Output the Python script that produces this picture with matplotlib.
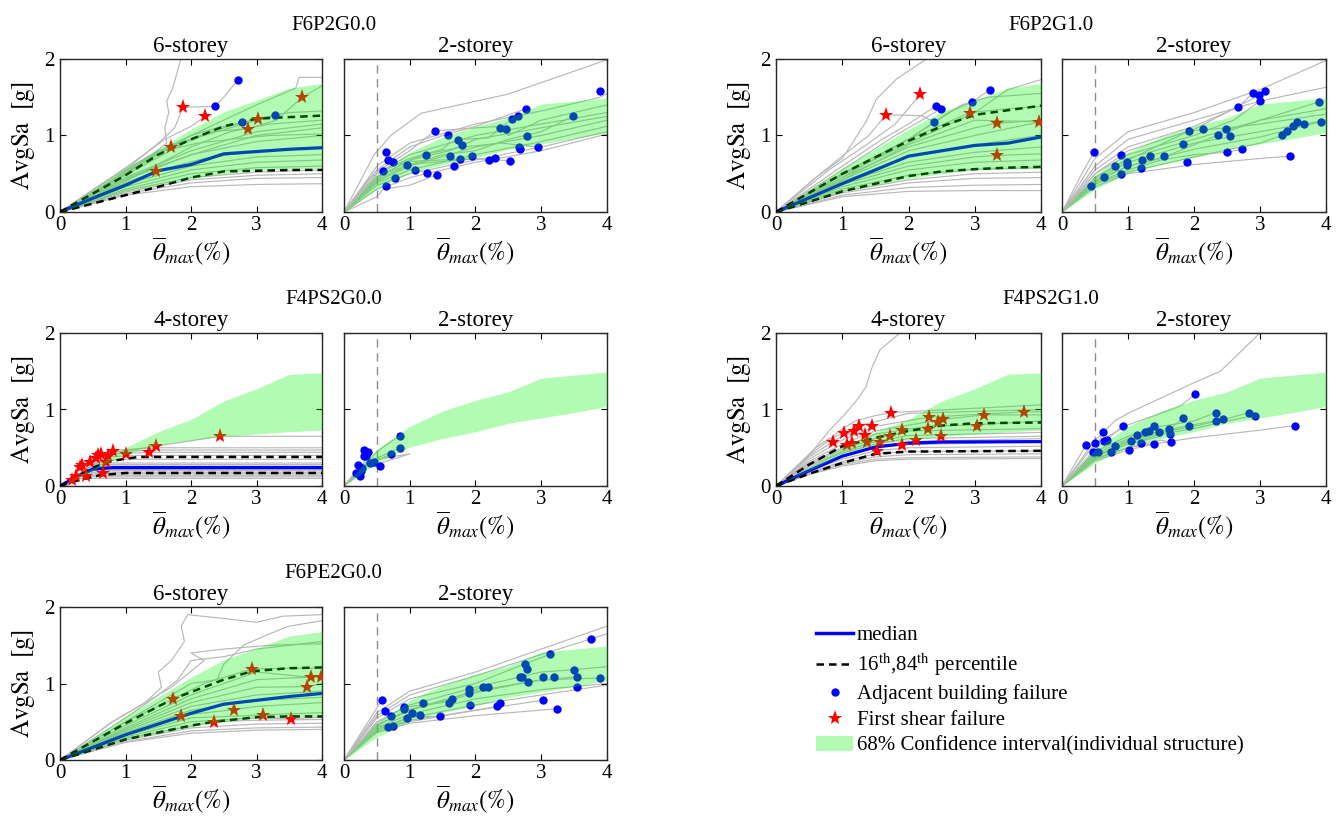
import matplotlib
matplotlib.use('Agg')
import matplotlib.pyplot as plt
from matplotlib.lines import Line2D
from matplotlib.patches import Patch

plt.rcParams['font.family'] = ['Liberation Serif', 'DejaVu Serif']
plt.rcParams['mathtext.fontset'] = 'stix'

# ---------------- data ----------------
group_titles = ['F6P2G0.0', 'F6P2G1.0', 'F4PS2G0.0', 'F4PS2G1.0', 'F6PE2G0.0']

# 68% band of the individual structures
band6_x = [0, 1, 2, 2.5, 3, 3.5, 4]
band6_lo = [0, 0.27, 0.44, 0.50, 0.55, 0.56, 0.57]
band6_hi = [0, 0.57, 1.08, 1.31, 1.46, 1.62, 1.68]
band4_x = [0, 0.5, 1, 1.5, 2, 2.5, 3, 3.5, 4]
band4_lo = [0, 0.20, 0.42, 0.54, 0.60, 0.65, 0.68, 0.71, 0.73]
band4_hi = [0, 0.24, 0.50, 0.71, 0.87, 1.11, 1.27, 1.46, 1.48]
band2_x = [0, 0.5, 1, 1.5, 2, 2.5, 3, 3.5, 4]
band2_lo = [0, 0.30, 0.51, 0.62, 0.71, 0.82, 0.89, 0.96, 1.04]
band2_hi = [0, 0.48, 0.78, 0.98, 1.12, 1.23, 1.41, 1.45, 1.49]

# F6P2G0.0 - 6-storey
a_curves = [
    [(0, 0), (0.5, 0.25), (1, 0.5), (1.4, 0.75), (1.63, 0.9), (1.6, 1.1), (1.66, 1.3), (1.63, 1.45), (1.72, 1.62), (1.78, 1.8), (1.86, 2.05)],
    [(0, 0), (0.6, 0.35), (1.1, 0.62), (1.5, 0.9), (1.75, 1.1), (1.88, 1.37), (2.36, 1.38), (2.5, 1.5), (2.72, 1.73)],
    [(0, 0), (0.7, 0.4), (1.2, 0.7), (1.6, 0.95), (2.0, 1.12), (2.22, 1.25)],
    [(0, 0), (0.8, 0.45), (1.4, 0.75), (2.0, 1.0), (2.4, 1.1), (2.8, 1.17)],
    [(0, 0), (0.8, 0.42), (1.5, 0.78), (2.2, 1.0), (2.8, 1.15), (3.28, 1.26)],
    [(0, 0), (1, 0.5), (1.7, 0.86), (2.3, 1.05), (2.87, 1.09), (3.3, 1.2), (3.7, 1.5), (3.9, 1.6), (4, 1.65)],
    [(0, 0), (1, 0.48), (2, 0.95), (2.5, 1.1), (3.0, 1.22), (3.5, 1.3), (4, 1.32)],
    [(0, 0), (0.9, 0.4), (1.5, 0.6), (2.2, 0.8), (3, 1.0), (4, 1.1)],
    [(0, 0), (1, 0.42), (2, 0.75), (3, 0.92), (4, 1.0)],
    [(0, 0), (1, 0.38), (1.5, 0.54), (2.2, 0.7), (3, 0.8), (4, 0.85)],
    [(0, 0), (1, 0.36), (2, 0.6), (3, 0.72), (4, 0.75)],
    [(0, 0), (1, 0.33), (2, 0.55), (3, 0.65), (4, 0.68)],
    [(0, 0), (1, 0.3), (2, 0.5), (3, 0.58), (4, 0.6)],
    [(0, 0), (1, 0.28), (2, 0.45), (3, 0.52), (4, 0.55)],
    [(0, 0), (1, 0.26), (2, 0.42), (3, 0.48), (4, 0.5)],
    [(0, 0), (1, 0.24), (2, 0.38), (3, 0.44), (4, 0.45)],
    [(0, 0), (1, 0.22), (2, 0.33), (3, 0.36), (4, 0.37)],
    [(0, 0), (1, 0.4), (2, 0.85), (2.6, 1.05), (3.2, 1.15), (4, 1.2)],
    [(0, 0), (1, 0.45), (2, 0.8), (3, 1.05), (4, 1.15)],
    [(0, 0), (0.6, 0.3), (1.2, 0.65), (1.6, 0.8), (2.1, 0.9), (2.6, 0.95), (3.2, 1.0), (4, 1.02)],
    [(0, 0), (1, 0.5), (2, 1.0), (3, 1.4), (3.6, 1.62), (3.65, 1.76), (4, 1.76)],
]
a_med_x = [0, 0.5, 1, 1.5, 2, 2.5, 3, 3.5, 4]
a_med_y = [0, 0.18, 0.35, 0.54, 0.62, 0.76, 0.79, 0.82, 0.84]
a_p84_y = [0, 0.24, 0.48, 0.75, 0.95, 1.12, 1.22, 1.24, 1.26]
a_p16_y = [0, 0.11, 0.22, 0.33, 0.45, 0.53, 0.54, 0.55, 0.55]
a_star_x = [1.88, 2.21, 1.69, 1.47, 3.02, 2.87, 3.69]
a_star_y = [1.37, 1.25, 0.85, 0.54, 1.22, 1.09, 1.50]
a_dot_x = [2.72, 2.36, 2.78, 3.28]
a_dot_y = [1.73, 1.38, 1.17, 1.27]

# F6P2G0.0 - 2-storey
b_curves = [
    [(0, 0), (0.46, 0.75), (0.71, 1.0), (1.17, 1.29), (2.49, 1.54), (4.0, 1.99)],
    [(0, 0), (0.5, 0.6), (1, 0.9), (2, 1.15), (3, 1.32), (3.9, 1.5), (4, 1.55)],
    [(0, 0), (0.5, 0.55), (1, 0.85), (1.5, 1.0), (2, 1.12), (2.77, 1.35)],
    [(0, 0), (0.45, 0.5), (1, 0.8), (1.38, 1.06), (2, 1.1), (2.4, 1.12), (2.5, 1.0), (3, 1.2), (4, 1.4)],
    [(0, 0), (0.5, 0.5), (1, 0.75), (2, 1.0), (3, 1.15), (4, 1.3)],
    [(0, 0), (0.5, 0.45), (1, 0.68), (1.6, 0.8), (2, 0.95), (3, 1.1), (4, 1.25)],
    [(0, 0), (0.5, 0.4), (1, 0.6), (2, 0.85), (3, 1.0), (4, 1.2)],
    [(0, 0), (0.5, 0.38), (1, 0.55), (2, 0.75), (3, 0.92), (4, 1.12)],
    [(0, 0), (0.5, 0.35), (1, 0.5), (2, 0.68), (3, 0.85), (4, 1.05)],
    [(0, 0), (0.5, 0.3), (0.8, 0.38), (1, 0.45), (2, 0.65), (3, 0.8), (4, 1.02)],
    [(0, 0), (0.5, 0.2), (0.6, 0.3), (1.0, 0.35), (1.3, 0.45), (1.42, 0.49)],
    [(0, 0), (0.5, 0.42), (1, 0.62), (1.5, 0.75), (2, 0.8), (2.5, 0.95), (3, 1.05), (3.48, 1.25)],
    [(0, 0), (0.5, 0.5), (1, 0.7), (1.5, 0.82), (1.6, 0.9), (1.8, 0.95), (2.2, 0.97), (2.56, 1.22)],
    [(0, 0), (0.4, 0.45), (0.7, 0.6), (1, 0.66), (2, 0.7), (2.21, 0.68)],
    [(0, 0), (0.5, 0.47), (1, 0.62), (1.5, 0.66), (2, 0.7), (2.52, 0.67)],
    [(0, 0), (0.6, 0.5), (1.2, 0.75), (1.8, 0.85), (2.4, 0.9), (2.95, 0.85)],
]
b_dot_x = [0.64, 0.67, 0.75, 0.60, 0.78, 0.64, 0.96, 1.08, 1.24, 1.26, 1.38, 1.42, 1.58, 1.61, 1.68, 1.73,
           1.79, 1.76, 1.94, 2.21, 2.30, 2.38, 2.47, 2.52, 2.56, 2.65, 2.66, 2.67, 2.77, 2.78, 2.95, 3.48, 3.89]
b_dot_y = [0.79, 0.68, 0.65, 0.54, 0.45, 0.34, 0.62, 0.55, 0.74, 0.51, 1.06, 0.49, 1.00, 0.73, 0.60, 0.94,
           0.87, 0.69, 0.73, 0.68, 0.70, 1.10, 1.08, 0.67, 1.22, 1.26, 0.85, 0.82, 1.35, 0.99, 0.85, 1.25, 1.58]

# F6P2G1.0 - 6-storey
c_curves = [
    [(0, 0), (0.6, 0.45), (1.0, 0.7), (1.36, 1.18), (1.52, 1.48), (1.82, 1.74), (2.27, 2.0)],
    [(0, 0), (0.6, 0.45), (1.1, 0.8), (1.4, 1.0), (1.66, 1.27), (2.2, 1.26), (2.38, 1.18)],
    [(0, 0), (0.8, 0.55), (1.4, 0.9), (1.8, 1.15), (2.18, 1.54)],
    [(0, 0), (1, 0.6), (1.6, 0.95), (2.0, 1.15), (2.42, 1.39)],
    [(0, 0), (1, 0.55), (1.8, 1.0), (2.2, 1.2), (2.49, 1.35)],
    [(0, 0), (1, 0.5), (2, 0.95), (2.6, 1.3), (2.96, 1.44), (3.23, 1.60)],
    [(0, 0), (1, 0.5), (2, 0.95), (2.93, 1.30), (3.5, 1.35), (4, 1.38)],
    [(0, 0), (1, 0.48), (2, 0.9), (3, 1.3), (3.5, 1.6), (4, 1.73)],
    [(0, 0), (1, 0.45), (2, 0.85), (3, 1.1), (3.33, 1.16), (4, 1.2)],
    [(0, 0), (1, 0.42), (2, 0.8), (3, 1.0), (4, 1.18)],
    [(0, 0), (1, 0.4), (2, 0.72), (3, 0.88), (4, 1.0)],
    [(0, 0), (1, 0.38), (2, 0.65), (3, 0.78), (4, 0.85)],
    [(0, 0), (1, 0.36), (2, 0.6), (3, 0.72), (3.33, 0.74), (4, 0.76)],
    [(0, 0), (1, 0.33), (2, 0.55), (3, 0.65), (4, 0.68)],
    [(0, 0), (1, 0.3), (2, 0.48), (3, 0.56), (4, 0.58)],
    [(0, 0), (1, 0.27), (2, 0.42), (3, 0.5), (4, 0.52)],
    [(0, 0), (1, 0.25), (2, 0.38), (3, 0.44), (4, 0.45)],
    [(0, 0), (1, 0.22), (2, 0.32), (3, 0.35), (4, 0.36)],
    [(0, 0), (1, 0.2), (2, 0.27), (3, 0.28), (4, 0.28)],
    [(0, 0), (1, 0.45), (2, 0.95), (2.8, 1.4), (3.2, 1.5), (4, 1.55)],
    [(0, 0), (1, 0.42), (2, 0.88), (3, 1.2), (3.97, 1.18)],
]
c_med_x = [0, 1, 2, 2.5, 3, 3.5, 4]
c_med_y = [0, 0.37, 0.73, 0.80, 0.87, 0.90, 0.98]
c_p84_y = [0, 0.50, 0.93, 1.12, 1.27, 1.33, 1.39]
c_p16_y = [0, 0.27, 0.47, 0.53, 0.56, 0.58, 0.59]
c_star_x = [1.66, 2.18, 2.93, 3.33, 3.97, 3.33]
c_star_y = [1.27, 1.54, 1.30, 1.16, 1.18, 0.74]
c_dot_x = [3.23, 2.42, 2.49, 2.38, 2.96]
c_dot_y = [1.60, 1.39, 1.35, 1.18, 1.44]

# F6P2G1.0 - 2-storey
d_curves = [
    [(0, 0), (0.5, 0.7), (1, 1.05), (2, 1.3), (3, 1.6), (4, 1.98)],
    [(0, 0), (0.5, 0.6), (1, 0.95), (2, 1.2), (3, 1.45), (4, 1.63)],
    [(0, 0), (0.3, 0.5), (0.49, 0.79)],
    [(0, 0), (0.5, 0.55), (1, 0.85), (2, 1.12), (2.67, 1.37), (2.9, 1.56)],
    [(0, 0), (0.5, 0.5), (1, 0.8), (2, 1.08), (3, 1.53), (3.07, 1.58)],
    [(0, 0), (0.5, 0.5), (1, 0.75), (2, 1.0), (2.6, 1.2), (3.0, 1.45)],
    [(0, 0), (0.5, 0.45), (1, 0.7), (2, 0.95), (3, 1.2), (3.9, 1.44)],
    [(0, 0), (0.5, 0.42), (1, 0.65), (2, 0.9), (3, 1.05), (3.66, 1.15), (4, 1.2)],
    [(0, 0), (0.5, 0.4), (1, 0.6), (2, 0.82), (3, 0.98), (3.92, 1.18)],
    [(0, 0), (0.5, 0.38), (1, 0.55), (1.5, 0.68), (2, 0.75), (2.5, 0.78), (2.72, 0.82)],
    [(0, 0), (0.5, 0.33), (1, 0.5), (2, 0.62), (3, 0.7), (3.46, 0.73)],
    [(0, 0), (0.44, 0.34)],
    [(0, 0), (0.5, 0.36), (1, 0.52), (1.5, 0.62), (2, 0.72), (3, 0.9), (3.33, 1.0)],
    [(0, 0), (0.5, 0.4), (1, 0.6), (1.5, 0.7), (2, 0.88), (2.5, 1.05), (3, 1.2), (4, 1.35)],
    [(0, 0), (0.5, 0.45), (1, 0.68), (1.93, 1.06), (2.5, 1.1), (3, 1.15), (4, 1.28)],
]
d_dot_x = [0.49, 0.44, 0.80, 0.89, 0.90, 0.98, 0.98, 1.21, 1.20, 1.34, 1.54, 1.84, 1.90, 1.93, 2.13, 2.37,
           2.48, 2.54, 2.50, 2.72, 2.67, 2.90, 2.99, 3.07, 3.00, 3.33, 3.41, 3.50, 3.56, 3.66, 3.46, 3.90, 3.92, 0.64]
d_dot_y = [0.79, 0.34, 0.60, 0.50, 0.75, 0.65, 0.62, 0.68, 0.57, 0.73, 0.73, 0.89, 0.65, 1.06, 1.08, 1.01,
           1.08, 0.99, 0.78, 0.82, 1.37, 1.56, 1.53, 1.58, 1.45, 1.00, 1.06, 1.13, 1.17, 1.15, 0.73, 1.44, 1.18, 0.46]

# F4PS2G0.0 - 4-storey
e_curves = [
    [(0, 0), (0.2, 0.1), (4, 0.1)],
    [(0, 0), (0.25, 0.12), (4, 0.12)],
    [(0, 0), (0.3, 0.14), (4, 0.14)],
    [(0, 0), (0.3, 0.16), (4, 0.16)],
    [(0, 0), (0.35, 0.18), (4, 0.18)],
    [(0, 0), (0.4, 0.2), (4, 0.2)],
    [(0, 0), (0.45, 0.22), (4, 0.22)],
    [(0, 0), (0.5, 0.24), (4, 0.24)],
    [(0, 0), (0.5, 0.26), (4, 0.26)],
    [(0, 0), (0.55, 0.28), (4, 0.28)],
    [(0, 0), (0.6, 0.3), (4, 0.3)],
    [(0, 0), (0.6, 0.33), (1.0, 0.35), (4, 0.35)],
    [(0, 0), (0.7, 0.38), (1.2, 0.4), (4, 0.4)],
    [(0, 0), (0.8, 0.42), (1.4, 0.44), (4, 0.44)],
    [(0, 0), (0.8, 0.45), (1.5, 0.47), (4, 0.47)],
    [(0, 0), (0.9, 0.47), (1.46, 0.5), (4, 0.5)],
    [(0, 0), (0.9, 0.45), (1.46, 0.52), (2.45, 0.65), (4, 0.65)],
]
e_med_x = [0, 0.25, 0.5, 0.8, 4]
e_med_y = [0, 0.12, 0.22, 0.24, 0.24]
e_p84_x = [0, 0.5, 0.8, 1.2, 4]
e_p84_y = [0, 0.24, 0.33, 0.38, 0.38]
e_p16_x = [0, 0.3, 0.6, 1.0, 4]
e_p16_y = [0, 0.08, 0.14, 0.17, 0.17]
e_star_x = [2.45, 1.46, 1.36, 1.0, 0.70, 0.81, 0.58, 0.34, 0.46, 0.25, 0.40, 0.73, 0.66, 0.19, 0.55, 0.30, 0.62]
e_star_y = [0.66, 0.52, 0.44, 0.42, 0.32, 0.46, 0.40, 0.28, 0.32, 0.13, 0.13, 0.39, 0.17, 0.08, 0.36, 0.25, 0.42]

# F4PS2G0.0 - 2-storey
f_curves = [
    [(0, 0), (0.2, 0.2), (0.35, 0.3), (0.5, 0.45), (0.85, 0.66)],
    [(0, 0), (0.25, 0.25), (0.5, 0.35), (1.0, 0.42), (0.55, 0.3)],
    [(0, 0), (0.3, 0.3), (0.6, 0.4), (0.85, 0.5)],
    [(0, 0), (0.2, 0.15), (0.3, 0.3), (0.36, 0.45)],
    [(0, 0), (0.25, 0.2), (0.4, 0.3), (0.55, 0.26)],
    [(0, 0), (0.3, 0.25), (0.72, 0.42)],
    [(0, 0), (0.15, 0.1), (0.26, 0.19)],
]
f_dot_x = [0.85, 0.85, 0.72, 0.30, 0.36, 0.34, 0.30, 0.22, 0.55, 0.40, 0.28, 0.26, 0.46, 0.19, 0.24]
f_dot_y = [0.66, 0.50, 0.42, 0.47, 0.45, 0.39, 0.39, 0.28, 0.26, 0.30, 0.23, 0.19, 0.31, 0.17, 0.13]

# F4PS2G1.0 - 4-storey
g_curves = [
    [(0, 0), (0.5, 0.4), (0.81, 0.73), (1.0, 0.9), (1.2, 1.1), (1.36, 1.3), (1.45, 1.55), (1.57, 1.78), (1.87, 2.0)],
    [(0, 0), (0.5, 0.4), (0.8, 0.6), (1.0, 0.75), (1.2, 0.85), (1.5, 0.92), (1.73, 0.96), (4, 1.06)],
    [(0, 0), (0.5, 0.38), (0.86, 0.58), (1.1, 0.7), (1.26, 0.79), (2, 0.95), (4, 1.0)],
    [(0, 0), (0.5, 0.35), (1.0, 0.6), (1.5, 0.78), (2.31, 0.9), (3.74, 0.97), (4, 0.97)],
    [(0, 0), (0.5, 0.32), (1.0, 0.55), (1.5, 0.72), (2.5, 0.87), (3.14, 0.93), (4, 0.93)],
    [(0, 0), (0.5, 0.3), (1.0, 0.5), (1.5, 0.68), (2.3, 0.78), (3.0, 0.8), (4, 0.85)],
    [(0, 0), (0.5, 0.28), (1.0, 0.48), (1.5, 0.62), (2.0, 0.72), (4, 0.75)],
    [(0, 0), (0.5, 0.27), (1.0, 0.45), (1.5, 0.58), (2.0, 0.66), (4, 0.7)],
    [(0, 0), (0.5, 0.26), (1.0, 0.43), (1.5, 0.55), (2.0, 0.62), (4, 0.65)],
    [(0, 0), (0.5, 0.24), (1.0, 0.4), (1.5, 0.5), (2.0, 0.58), (4, 0.62)],
    [(0, 0), (0.5, 0.22), (1.0, 0.38), (1.5, 0.5), (2.0, 0.54), (4, 0.58)],
    [(0, 0), (0.5, 0.2), (1.0, 0.35), (1.5, 0.46), (2.0, 0.5), (4, 0.52)],
    [(0, 0), (0.5, 0.18), (1.0, 0.32), (1.5, 0.42), (2.0, 0.45), (4, 0.46)],
    [(0, 0), (0.5, 0.17), (1.0, 0.3), (1.5, 0.38), (2.0, 0.41), (4, 0.42)],
    [(0, 0), (0.5, 0.16), (1.0, 0.28), (1.5, 0.35), (2.0, 0.37), (4, 0.38)],
    [(0, 0), (0.5, 0.15), (1.0, 0.26), (1.5, 0.33), (2.0, 0.35), (4, 0.36)],
    [(0, 0), (0.6, 0.5), (0.8, 0.62), (1.0, 0.68), (1.35, 0.67)],
]
g_med_x = [0, 0.5, 1, 1.5, 2, 2.5, 4]
g_med_y = [0, 0.20, 0.39, 0.51, 0.56, 0.575, 0.58]
g_p84_x = [0, 0.5, 1, 1.5, 2, 2.5, 3, 4]
g_p84_y = [0, 0.28, 0.52, 0.63, 0.72, 0.79, 0.82, 0.83]
g_p16_x = [0, 0.5, 1, 1.5, 2, 4]
g_p16_y = [0, 0.16, 0.30, 0.42, 0.45, 0.46]
g_star_x = [1.73, 1.26, 1.02, 1.18, 0.86, 1.45, 1.35, 1.07, 1.15, 1.53, 2.31, 2.29, 2.49, 2.52, 2.45, 3.14,
            3.04, 3.74, 1.90, 1.90, 2.12, 1.72, 1.38, 1.57]
g_star_y = [0.96, 0.79, 0.69, 0.72, 0.58, 0.79, 0.67, 0.53, 0.56, 0.46, 0.90, 0.75, 0.66, 0.87, 0.84, 0.93,
            0.79, 0.97, 0.54, 0.73, 0.60, 0.65, 0.58, 0.58]

# F4PS2G1.0 - 2-storey
h_curves = [
    [(0, 0), (0.5, 0.6), (0.8, 0.85), (1, 0.95), (1.5, 1.15), (2, 1.35), (2.4, 1.5), (2.7, 1.75), (3.0, 2.0)],
    [(0, 0), (0.5, 0.55), (1, 0.8), (1.5, 0.95), (1.8, 1.05), (2.02, 1.2)],
    [(0, 0), (0.5, 0.45), (1, 0.65), (1.5, 0.78), (2, 0.85), (2.33, 0.96)],
    [(0, 0), (0.5, 0.4), (1, 0.58), (1.5, 0.7), (2, 0.78), (2.5, 0.88), (2.83, 0.96)],
    [(0, 0), (0.5, 0.38), (1, 0.55), (1.5, 0.68), (2, 0.75), (2.5, 0.85), (2.92, 0.92)],
    [(0, 0), (0.5, 0.35), (1, 0.5), (2, 0.63), (3, 0.73), (3.53, 0.79)],
    [(0, 0), (0.5, 0.42), (1, 0.62), (1.4, 0.79)],
    [(0, 0), (0.5, 0.48), (0.93, 0.79)],
    [(0, 0), (0.5, 0.36), (1, 0.5), (1.5, 0.6), (1.65, 0.57)],
    [(0, 0), (0.5, 0.4), (1, 0.55), (1.5, 0.65), (1.84, 0.89)],
    [(0, 0), (0.36, 0.53)],
    [(0, 0), (0.5, 0.44), (0.62, 0.71)],
    [(0, 0), (0.5, 0.33), (1, 0.47), (1.4, 0.55)],
    [(0, 0), (0.5, 0.38), (1, 0.6), (1.5, 0.72), (1.92, 0.79), (2.44, 0.87)],
]
h_dot_x = [2.02, 0.36, 0.50, 0.62, 0.64, 0.68, 0.93, 1.04, 1.01, 1.14, 1.26, 1.32, 1.40, 1.40, 1.47, 1.62,
           1.63, 1.65, 1.84, 1.92, 2.33, 2.33, 2.44, 2.83, 2.92, 3.53, 0.47, 0.55, 0.74, 0.80, 1.20]
h_dot_y = [1.20, 0.53, 0.56, 0.71, 0.59, 0.60, 0.79, 0.59, 0.47, 0.67, 0.70, 0.72, 0.79, 0.55, 0.71, 0.75,
           0.68, 0.57, 0.89, 0.79, 0.96, 0.85, 0.87, 0.96, 0.92, 0.79, 0.45, 0.45, 0.45, 0.52, 0.56]

# F6PE2G0.0 - 6-storey
i_curves = [
    [(0, 0), (0.8, 0.5), (1.3, 0.75), (1.55, 0.95), (1.5, 1.15), (1.7, 1.3), (1.9, 1.55), (1.85, 1.75), (1.95, 1.9),
     (2.5, 1.85), (3.0, 1.8), (3.4, 1.88), (4, 1.9)],
    [(0, 0), (1, 0.55), (1.5, 0.85), (1.8, 1.05), (2.0, 1.3), (2.5, 1.35), (3.0, 1.45), (3.5, 1.5), (4, 1.55)],
    [(0, 0), (1, 0.5), (1.5, 0.75), (2.0, 1.0), (2.4, 1.05), (2.5, 1.25), (2.8, 1.5), (3.2, 1.65), (3.5, 1.75), (4, 1.82)],
    [(0, 0), (1, 0.5), (1.73, 0.8), (2.2, 1.0), (2.93, 1.19), (3.5, 1.2), (4, 1.2)],
    [(0, 0), (1, 0.45), (2, 0.85), (3, 1.15), (3.83, 1.08), (4, 1.1)],
    [(0, 0), (1, 0.42), (2, 0.8), (3, 1.05), (3.99, 1.09)],
    [(0, 0), (1, 0.4), (2, 0.75), (3, 0.95), (3.77, 0.96), (4, 1.0)],
    [(0, 0), (1, 0.38), (2, 0.7), (3, 0.85), (4, 0.9)],
    [(0, 0), (1, 0.36), (2, 0.65), (3, 0.78), (4, 0.82)],
    [(0, 0), (1, 0.34), (1.84, 0.58), (2.66, 0.66), (3, 0.7), (4, 0.75)],
    [(0, 0), (1, 0.32), (2, 0.55), (3.1, 0.59), (4, 0.62)],
    [(0, 0), (1, 0.3), (2, 0.5), (3, 0.55), (3.53, 0.54), (4, 0.56)],
    [(0, 0), (1, 0.28), (2.35, 0.5), (3, 0.52), (4, 0.53)],
    [(0, 0), (1, 0.26), (2, 0.42), (3, 0.47), (4, 0.48)],
    [(0, 0), (1, 0.24), (2, 0.38), (3, 0.42), (4, 0.43)],
    [(0, 0), (1, 0.23), (2, 0.35), (3, 0.39), (4, 0.4)],
    [(0, 0), (0.8, 0.5), (1.2, 0.7), (1.7, 0.95), (2.2, 1.3), (2.0, 1.4), (2.5, 1.45), (3.2, 1.5), (4, 1.52)],
]
i_med_x = [0, 1, 2, 2.5, 3, 3.5, 4]
i_med_y = [0, 0.33, 0.61, 0.73, 0.78, 0.83, 0.87]
i_p84_x = [0, 1, 1.73, 2.5, 2.93, 3.5, 4]
i_p84_y = [0, 0.48, 0.80, 1.05, 1.16, 1.20, 1.21]
i_p16_x = [0, 1, 2, 2.35, 3, 3.5, 4]
i_p16_y = [0, 0.27, 0.45, 0.50, 0.56, 0.57, 0.57]
i_star_x = [1.73, 2.93, 1.84, 2.35, 2.66, 3.10, 3.53, 3.77, 3.83, 3.99]
i_star_y = [0.80, 1.19, 0.58, 0.50, 0.66, 0.59, 0.54, 0.96, 1.08, 1.09]

# F6PE2G0.0 - 2-storey
j_curves = [
    [(0, 0), (0.5, 0.62), (1, 0.9), (2, 1.15), (3, 1.45), (4, 1.75)],
    [(0, 0), (0.5, 0.58), (1, 0.85), (2, 1.1), (3, 1.38), (3.75, 1.58), (4, 1.65)],
    [(0, 0), (0.5, 0.55), (1, 0.8), (2, 1.0), (2.76, 1.26), (3.13, 1.38)],
    [(0, 0), (0.58, 0.79)],
    [(0, 0), (0.5, 0.5), (1, 0.72), (2, 0.95), (3, 1.15), (3.5, 1.18), (4, 1.22)],
    [(0, 0), (0.5, 0.46), (1, 0.66), (2, 0.9), (3, 1.05), (3.89, 1.07)],
    [(0, 0), (0.5, 0.42), (1, 0.6), (2, 0.8), (3, 0.92), (4, 1.0)],
    [(0, 0), (0.5, 0.4), (1, 0.55), (2, 0.72), (3, 0.85), (4, 0.98)],
    [(0, 0), (0.5, 0.38), (1, 0.52), (2, 0.65), (3.02, 0.78)],
    [(0, 0), (0.5, 0.36), (1, 0.48), (2, 0.58), (3.24, 0.67)],
    [(0, 0), (0.5, 0.4), (1, 0.56), (1.46, 0.57)],
    [(0, 0), (0.5, 0.45), (0.75, 0.45), (1, 0.5), (2, 0.65), (2.33, 0.7)],
    [(0, 0), (0.5, 0.48), (0.91, 0.69), (1.5, 0.75), (2, 0.88), (2.8, 1.02), (3.55, 1.09)],
    [(0, 0), (0.5, 0.45), (1, 0.65), (1.64, 0.8), (2.11, 0.96)],
]
j_dot_x = [0.58, 0.63, 0.72, 0.75, 0.67, 0.91, 0.92, 1.03, 1.15, 0.96, 1.20, 1.46, 1.59, 1.64, 1.90, 1.90, 1.92,
           2.11, 2.19, 2.33, 2.37, 2.68, 2.71, 2.76, 2.78, 2.80, 3.02, 3.03, 3.13, 3.20, 3.24, 3.50, 3.55, 3.54,
           3.75, 3.89]
j_dot_y = [0.79, 0.64, 0.58, 0.45, 0.43, 0.69, 0.67, 0.61, 0.59, 0.55, 0.75, 0.57, 0.74, 0.80, 0.93, 0.88, 0.72,
           0.96, 0.95, 0.70, 0.75, 1.09, 1.09, 1.26, 1.19, 1.02, 0.78, 1.08, 1.38, 1.08, 0.67, 1.18, 1.09, 0.95,
           1.58, 1.07]

# ---------------- figure ----------------
W, H = 1339, 821
fig = plt.figure(figsize=(W / 100, H / 100), dpi=100)

GRAY = (0.72, 0.72, 0.72)
GREEN = (0.0, 0.95, 0.0)
GALPHA = 0.3
FS = 15


def add_ax(x0, x1, y0, y1):
    return fig.add_axes([x0 / W, 1 - y1 / H, (x1 - x0) / W, (y1 - y0) / H])


def panel(ax, title, curves, band, med=None, p84=None, p16=None, stars=None, dots=None,
          vline=False, ylabel=False):
    for c in curves:
        xs = [p[0] for p in c]
        ys = [p[1] for p in c]
        ax.plot(xs, ys, color=GRAY, lw=0.85, zorder=1)
    if vline:
        ax.plot([0.5, 0.5], [0, 1.95], ls=(0, (6, 4)), color=(0.55, 0.55, 0.55), lw=1.0, zorder=2)
    if med is not None:
        ax.plot(med[0], med[1], color='b', lw=2.3, zorder=3)
        ax.plot(p84[0], p84[1], color='k', lw=1.8, ls=(0, (3, 2)), zorder=3)
        ax.plot(p16[0], p16[1], color='k', lw=1.8, ls=(0, (3, 2)), zorder=3)
    if stars is not None:
        ax.plot(stars[0], stars[1], ls='none', marker='*', color='r', ms=11, mew=0, zorder=4)
    if dots is not None:
        ax.plot(dots[0], dots[1], ls='none', marker='o', color='b', ms=6, mew=0, zorder=4)
    ax.fill_between(band[0], band[1], band[2], color=GREEN, alpha=GALPHA, lw=0, zorder=5)

    ax.set_xlim(0, 4)
    ax.set_ylim(0, 2)
    ax.set_xticks([0, 1, 2, 3, 4])
    ax.set_yticks([0, 1, 2])
    ax.tick_params(direction='in', top=True, right=True, labelsize=FS, length=4, width=0.8, pad=4)
    ax.tick_params(axis='x', pad=3)
    for s in ax.spines.values():
        s.set_linewidth(1.0)
        s.set_color('#262626')
    if ylabel:
        ax.set_ylabel(r'$\mathrm{AvgSa\ \ [g]}$', fontsize=18, labelpad=5)
    else:
        ax.set_yticklabels([])
    ax.set_xlabel(r'$\overline{\theta}_{max}(\%)$', fontsize=18, labelpad=0)
    ax.set_title(title, fontsize=16.5, pad=5)


cols = [(60, 322), (344, 607), (776, 1041), (1062, 1326)]
rows = [(59, 212), (333, 486), (607, 760)]
b6 = (band6_x, band6_lo, band6_hi)
b4 = (band4_x, band4_lo, band4_hi)
b2 = (band2_x, band2_lo, band2_hi)

# row 1 left
ax = add_ax(*cols[0], *rows[0])
panel(ax, '6-storey', a_curves, b6, (a_med_x, a_med_y), (a_med_x, a_p84_y), (a_med_x, a_p16_y),
      (a_star_x, a_star_y), (a_dot_x, a_dot_y), ylabel=True)
ax = add_ax(*cols[1], *rows[0])
panel(ax, '2-storey', b_curves, b2, dots=(b_dot_x, b_dot_y), vline=True)

# row 1 right
ax = add_ax(*cols[2], *rows[0])
panel(ax, '6-storey', c_curves, b6, (c_med_x, c_med_y), (c_med_x, c_p84_y), (c_med_x, c_p16_y),
      (c_star_x, c_star_y), (c_dot_x, c_dot_y), ylabel=True)
ax = add_ax(*cols[3], *rows[0])
panel(ax, '2-storey', d_curves, b2, dots=(d_dot_x, d_dot_y), vline=True)

# row 2 left
ax = add_ax(*cols[0], *rows[1])
panel(ax, '4-storey', e_curves, b4, (e_med_x, e_med_y), (e_p84_x, e_p84_y), (e_p16_x, e_p16_y),
      (e_star_x, e_star_y), ylabel=True)
ax = add_ax(*cols[1], *rows[1])
panel(ax, '2-storey', f_curves, b2, dots=(f_dot_x, f_dot_y), vline=True)

# row 2 right
ax = add_ax(*cols[2], *rows[1])
panel(ax, '4-storey', g_curves, b4, (g_med_x, g_med_y), (g_p84_x, g_p84_y), (g_p16_x, g_p16_y),
      (g_star_x, g_star_y), ylabel=True)
ax = add_ax(*cols[3], *rows[1])
panel(ax, '2-storey', h_curves, b2, dots=(h_dot_x, h_dot_y), vline=True)

# row 3 left
ax = add_ax(*cols[0], *rows[2])
panel(ax, '6-storey', i_curves, b6, (i_med_x, i_med_y), (i_p84_x, i_p84_y), (i_p16_x, i_p16_y),
      (i_star_x, i_star_y), ylabel=True)
ax = add_ax(*cols[1], *rows[2])
panel(ax, '2-storey', j_curves, b2, dots=(j_dot_x, j_dot_y), vline=True)

# group titles
fig.text(333.5 / W, 1 - 25 / H, group_titles[0], ha='center', va='center', fontsize=FS)
fig.text(1051 / W, 1 - 25 / H, group_titles[1], ha='center', va='center', fontsize=FS)
fig.text(333.5 / W, 1 - 299 / H, group_titles[2], ha='center', va='center', fontsize=FS)
fig.text(1051 / W, 1 - 299 / H, group_titles[3], ha='center', va='center', fontsize=FS)
fig.text(333.5 / W, 1 - 573 / H, group_titles[4], ha='center', va='center', fontsize=FS)

# legend
handles = [
    Line2D([], [], color='b', lw=2.5),
    Line2D([], [], color='k', lw=1.8, ls=(0, (3, 2))),
    Line2D([], [], ls='none', marker='o', color='b', ms=6, mew=0),
    Line2D([], [], ls='none', marker='*', color='r', ms=11, mew=0),
    Patch(facecolor=GREEN, alpha=GALPHA, lw=0),
]
labels = ['median', r'16$^{\mathrm{th}}$,84$^{\mathrm{th}}$ percentile', 'Adjacent building failure',
          'First shear failure', '68% Confidence interval(individual structure)']
fig.legend(handles, labels, loc='upper left', bbox_to_anchor=(808 / W, 1 - 617 / H), frameon=False,
           fontsize=FS, handlelength=1.75, handletextpad=0.2, labelspacing=0.3, borderaxespad=0)

fig.savefig('out.png', dpi=100)
